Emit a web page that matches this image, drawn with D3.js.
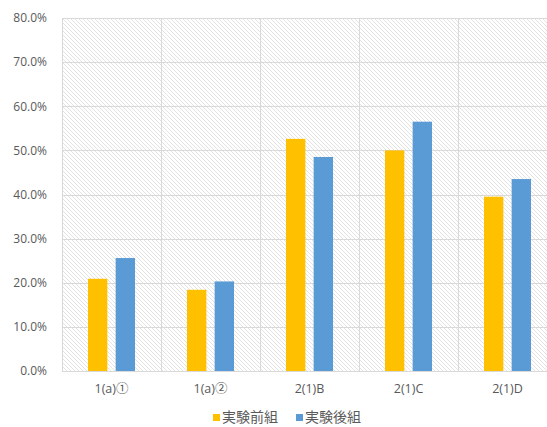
<!DOCTYPE html>
<html><head><meta charset="utf-8">
<script src="https://cdn.jsdelivr.net/npm/d3@7"></script>
<style>html,body{margin:0;padding:0;background:#fff;overflow:hidden}</style>
</head><body>
<svg id="c" width="547" height="427"></svg>
<script>
const categories = ["1(a)①", "1(a)②", "2(1)B", "2(1)C", "2(1)D"];
const seriesNames = ["実験前組", "実験後組"];
const beforeValues = [0.209, 0.184, 0.526, 0.500, 0.395];
const afterValues = [0.256, 0.203, 0.485, 0.565, 0.435];
const yTicks = [0, 0.1, 0.2, 0.3, 0.4, 0.5, 0.6, 0.7, 0.8];
const colors = ["#FFC000", "#5B9BD5"];

const svg = d3.select("#c");
const m = {left: 62, top: 18, right: 557, bottom: 371};
const W = m.right - m.left, H = m.bottom - m.top;

const defs = svg.append("defs");
const pat = defs.append("pattern").attr("id", "hatch").attr("patternUnits", "userSpaceOnUse")
  .attr("width", 4).attr("height", 4);
pat.append("rect").attr("width", 4).attr("height", 4).attr("fill", "#fff");
pat.append("path").attr("d", "M-1,-1 L5,5 M-1,3 L1,5 M3,-1 L5,1")
  .attr("stroke", "#e0e0e0").attr("stroke-width", 0.9);

const x = d3.scaleBand().domain(categories).range([m.left, m.right]).padding(0);
const inner = d3.scaleBand().domain(seriesNames).range([0, 47]).paddingInner(0.3);
const y = d3.scaleLinear().domain([0, 0.8]).range([m.bottom, m.top]);

const g = svg.append("g");
g.append("rect").attr("x", m.left).attr("y", m.top).attr("width", W).attr("height", H).attr("fill", "url(#hatch)");

// horizontal grid
g.append("g").selectAll("line").data(yTicks).join("line")
  .attr("x1", m.left).attr("x2", m.right)
  .attr("y1", d => Math.round(y(d)) + 0.5).attr("y2", d => Math.round(y(d)) + 0.5)
  .attr("stroke", "#d9d9d9").attr("stroke-width", 1);
// vertical grid at category boundaries
g.append("g").selectAll("line").data(categories).join("line")
  .attr("x1", d => Math.round(x(d)) + 0.5).attr("x2", d => Math.round(x(d)) + 0.5)
  .attr("y1", m.top).attr("y2", m.bottom)
  .attr("stroke", "#d9d9d9").attr("stroke-width", 1);

// bars
const data = categories.map((c, i) => ({c, vals: [beforeValues[i], afterValues[i]]}));
const grp = g.append("g").selectAll("g").data(data).join("g")
  .attr("transform", d => `translate(${x(d.c) + (x.bandwidth() - 47) / 2},0)`);
grp.selectAll("rect").data(d => d.vals.map((v, j) => ({v, s: seriesNames[j], j}))).join("rect")
  .attr("x", d => inner(d.s)).attr("width", inner.bandwidth())
  .attr("y", d => y(d.v)).attr("height", d => y(0) - y(d.v))
  .attr("fill", d => colors[d.j]);

// y axis labels
const fmt = d3.format(".1%");
svg.append("g").attr("transform", `translate(${m.left - 15},0)`)
  .call(d3.axisLeft(y).tickValues(yTicks).tickFormat(fmt).tickSize(0).tickPadding(0))
  .call(a => a.select(".domain").remove())
  .call(a => a.selectAll("text").attr("fill", "#595959").attr("font-size", 12)
    .attr("font-family", "'Open Sans', 'Noto Sans', sans-serif"));

// x axis labels
svg.append("g").attr("transform", `translate(0,${m.bottom})`)
  .call(d3.axisBottom(x).tickSize(0).tickPadding(13))
  .call(a => a.select(".domain").remove())
  .call(a => a.selectAll("text").attr("fill", "#595959").attr("font-size", 12.5)
    .attr("font-family", "'Open Sans', 'Noto Sans CJK JP', sans-serif"));

// legend
const leg = svg.append("g").attr("transform", "translate(213,414)");
const li = leg.selectAll("g").data(seriesNames).join("g")
  .attr("transform", (d, i) => `translate(${i * 83},0)`);
li.append("rect").attr("width", 7).attr("height", 7).attr("fill", (d, i) => colors[i]);
li.append("text").attr("x", 9).attr("y", 8).text(d => d)
  .attr("fill", "#595959").attr("font-size", 14)
  .attr("font-family", "'Noto Sans CJK JP', sans-serif");
</script>
</body></html>
